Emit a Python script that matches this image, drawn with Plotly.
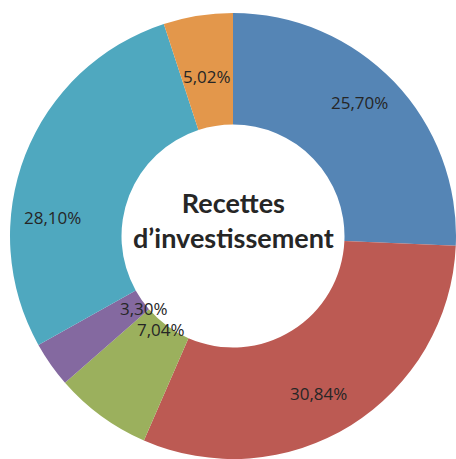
import plotly.graph_objects as go

# Répartition des recettes d'investissement (%)
parts = ["Bloc 1", "Bloc 2", "Bloc 3", "Bloc 4", "Bloc 5", "Bloc 6"]
shares = [25.70, 30.84, 7.04, 3.30, 28.10, 5.02]
colors = ["#5585B5", "#BC5A53", "#9BB05D", "#8469A0", "#4FA8BF", "#E3974B"]
title_lines = ["Recettes", "d’investissement"]

W, H = 456, 459
cx, cy, R = 233, 236, 223

# label anchor points (pixels from top-left)
label_xy = [(359, 102), (318, 393), (161, 329), (144, 308), (52, 217), (207, 76)]

fig = go.Figure(go.Pie(
    labels=parts,
    values=shares,
    sort=False,
    direction="clockwise",
    rotation=0,
    hole=0.50,
    marker=dict(colors=colors, line=dict(color="white", width=0)),
    textinfo="none",
    hoverinfo="label+percent",
    domain=dict(x=[(cx - R) / W, (cx + R) / W],
                y=[(H - cy - R) / H, (H - cy + R) / H]),
    showlegend=False,
))

annotations = []
for v, (px, py) in zip(shares, label_xy):
    annotations.append(dict(
        x=px / W, y=1 - py / H, xref="paper", yref="paper",
        text=f"{v:.2f}%".replace(".", ","),
        showarrow=False,
        font=dict(family="Open Sans", size=17, color="#262626"),
        xanchor="center", yanchor="middle",
    ))
annotations.append(dict(
    x=cx / W, y=1 - 220 / H, xref="paper", yref="paper",
    text="<b>" + "<br>".join(title_lines) + "</b>",
    showarrow=False,
    font=dict(family="Lato", size=27, color="#262626"),
    xanchor="center", yanchor="middle", align="center",
))

fig.update_layout(
    width=W, height=H,
    margin=dict(l=0, r=0, t=0, b=0),
    paper_bgcolor="white",
    plot_bgcolor="white",
    annotations=annotations,
)

fig.write_html("out.html")
